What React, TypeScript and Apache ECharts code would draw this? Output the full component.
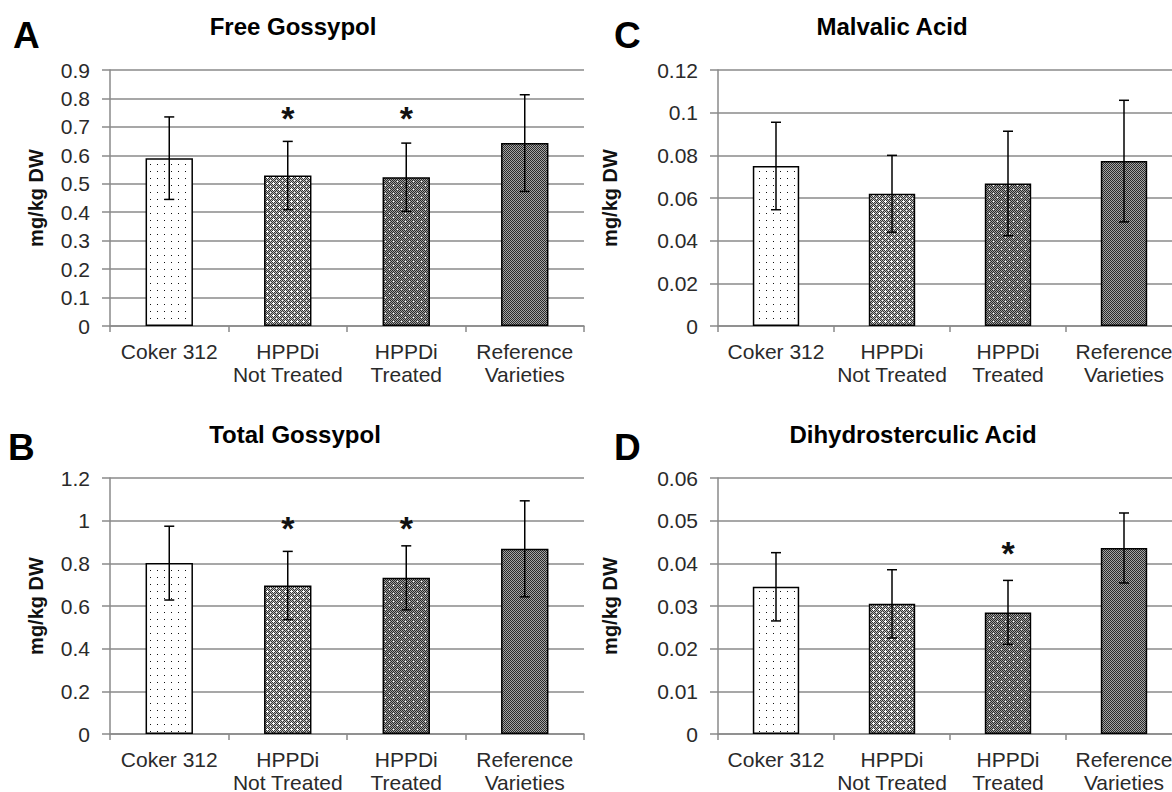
import { useEffect, useRef } from 'react';
import * as echarts from 'echarts';

const categories = ['Coker 312', 'HPPDi\nNot Treated', 'HPPDi\nTreated', 'Reference\nVarieties'];

const freeMean = [0.59, 0.529, 0.523, 0.643];
const freeErr = [0.145, 0.12, 0.12, 0.17];
const freeStar = [null, 0.73, 0.73, null];
const freeTicks = { max: 0.9, interval: 0.1 };

const totalMean = [0.801, 0.696, 0.732, 0.868];
const totalErr = [0.173, 0.16, 0.15, 0.225];
const totalStar = [null, 0.965, 0.965, null];
const totalTicks = { max: 1.2, interval: 0.2 };

const malvMean = [0.075, 0.062, 0.0668, 0.0773];
const malvErr = [0.0205, 0.018, 0.0245, 0.0285];
const malvStar = [null, null, null, null];
const malvTicks = { max: 0.12, interval: 0.02 };

const dhsMean = [0.0345, 0.0305, 0.0285, 0.0436];
const dhsErr = [0.008, 0.008, 0.0075, 0.0082];
const dhsStar = [null, null, 0.0425, null];
const dhsTicks = { max: 0.06, interval: 0.01 };

const FONT = "'Liberation Sans', Arial, sans-serif";

function makeTile(w: number, h: number, fn: (x: number, y: number) => string) {
  const c = document.createElement('canvas');
  c.width = w;
  c.height = h;
  const ctx = c.getContext('2d')!;
  for (let y = 0; y < h; y++) {
    for (let x = 0; x < w; x++) {
      ctx.fillStyle = fn(x, y);
      ctx.fillRect(x, y, 1, 1);
    }
  }
  return { image: c.toDataURL(), repeat: 'repeat', imageWidth: w, imageHeight: h };
}

export default function App() {
  const ref = useRef<HTMLDivElement>(null);
  useEffect(() => {
    if (!ref.current) return;
    const chart = echarts.init(ref.current, null, { renderer: 'svg' });

    const dots = makeTile(7, 7, (x, y) => (x === 3 && y === 3 ? '#111' : '#fff'));
    const weave = makeTile(6, 6, (x, y) => {
      const plus = (x === 3 && (y >= 2 && y <= 4)) || (y === 3 && x >= 2 && x <= 4);
      if (plus) return '#fff';
      if (x === 0 && y === 0) return '#fff';
      return (x + y) % 2 === 0 ? '#333' : '#b8b8b8';
    });
    const speck = makeTile(8, 8, (x, y) => {
      if ((x === 1 && y === 1) || (x === 5 && y === 5)) return '#fff';
      return (x + y) % 2 === 0 ? '#2a2a2a' : '#a0a0a0';
    });
    const fine = makeTile(2, 2, (x, y) => ((x + y) % 2 === 0 ? '#2a2a2a' : '#a4a4a4'));
    const patterns = [dots, weave, speck, fine];

    const panels = [
      { letter: 'A', title: 'Free Gossypol', mean: freeMean, err: freeErr, star: freeStar, ticks: freeTicks, left: 110, top: 70, width: 474, nameGap: 64, lx: 13, ly: 35, tx: 293, ty: 26 },
      { letter: 'C', title: 'Malvalic Acid', mean: malvMean, err: malvErr, star: malvStar, ticks: malvTicks, left: 718, top: 70, width: 464, nameGap: 98, lx: 614, ly: 35, tx: 892, ty: 26 },
      { letter: 'B', title: 'Total Gossypol', mean: totalMean, err: totalErr, star: totalStar, ticks: totalTicks, left: 110, top: 478, width: 474, nameGap: 64, lx: 8, ly: 447, tx: 295, ty: 434 },
      { letter: 'D', title: 'Dihydrosterculic Acid', mean: dhsMean, err: dhsErr, star: dhsStar, ticks: dhsTicks, left: 718, top: 478, width: 464, nameGap: 98, lx: 614, ly: 447, tx: 913, ty: 434 },
    ];

    const gridColor = '#8a8a8a';
    const grids: any[] = [];
    const xAxes: any[] = [];
    const yAxes: any[] = [];
    const series: any[] = [];
    const graphics: any[] = [];

    panels.forEach((p, k) => {
      grids.push({ left: p.left, top: p.top, width: p.width, height: 256, containLabel: false, outerBoundsMode: 'none' });
      xAxes.push({
        type: 'category',
        gridIndex: k,
        data: categories,
        axisLine: { lineStyle: { color: gridColor, width: 1.5 } },
        axisTick: { show: true, length: 6, lineStyle: { color: gridColor, width: 1.5 } },
        axisLabel: { color: '#2a2a2a', fontSize: 21, fontFamily: FONT, lineHeight: 23, margin: 14, interval: 0 },
      });
      yAxes.push({
        type: 'value',
        gridIndex: k,
        min: 0,
        max: p.ticks.max,
        interval: p.ticks.interval,
        name: 'mg/kg DW',
        nameLocation: 'middle',
        nameGap: p.nameGap,
        nameRotate: 90,
        nameTextStyle: { fontSize: 20, fontWeight: 'bold', fontFamily: FONT, color: '#111' },
        axisLine: { show: true, lineStyle: { color: gridColor, width: 1.5 } },
        axisTick: { show: true, length: 8, lineStyle: { color: gridColor, width: 1.5 } },
        splitLine: { show: true, lineStyle: { color: gridColor, width: 1.5 } },
        axisLabel: { color: '#2a2a2a', fontSize: 21, fontFamily: FONT, margin: 20 },
      });
      series.push({
        type: 'bar',
        xAxisIndex: k,
        yAxisIndex: k,
        barWidth: '40%',
        data: p.mean.map((v, i) => ({
          value: v,
          itemStyle: { color: patterns[i], borderColor: '#000', borderWidth: 1.5 },
        })),
        z: 2,
      });
      series.push({
        type: 'custom',
        xAxisIndex: k,
        yAxisIndex: k,
        z: 5,
        data: p.mean.map((v, i) => [i, v, p.err[i]]),
        renderItem: (params: any, api: any) => {
          const i = api.value(0);
          const m = api.value(1);
          const e = api.value(2);
          const top = api.coord([i, m + e]);
          const bot = api.coord([i, m - e]);
          const st = { stroke: '#000', lineWidth: 1.5 };
          return {
            type: 'group',
            children: [
              { type: 'line', shape: { x1: top[0], y1: top[1], x2: bot[0], y2: bot[1] }, style: st },
              { type: 'line', shape: { x1: top[0] - 5, y1: top[1], x2: top[0] + 5, y2: top[1] }, style: st },
              { type: 'line', shape: { x1: bot[0] - 5, y1: bot[1], x2: bot[0] + 5, y2: bot[1] }, style: st },
            ],
          };
        },
      });
      const starData = p.star.map((v, i) => (v == null ? null : [i, v])).filter((d) => d != null);
      if (starData.length) {
        series.push({
          type: 'custom',
          xAxisIndex: k,
          yAxisIndex: k,
          z: 6,
          data: starData,
          renderItem: (params: any, api: any) => {
            const pt = api.coord([api.value(0), api.value(1)]);
            return {
              type: 'text',
              x: pt[0],
              y: pt[1],
              style: { text: '*', fontSize: 34, fontWeight: 'bold', fontFamily: FONT, fill: '#111', align: 'center', verticalAlign: 'middle' },
            };
          },
        });
      }
      graphics.push({
        type: 'text',
        x: p.lx,
        y: p.ly,
        style: { text: p.letter, fontSize: 37, fontWeight: 'bold', fontFamily: FONT, fill: '#000', align: 'left', verticalAlign: 'middle' },
      });
      graphics.push({
        type: 'text',
        x: p.tx,
        y: p.ty,
        style: { text: p.title, fontSize: 24, fontWeight: 'bold', fontFamily: FONT, fill: '#000', align: 'center', verticalAlign: 'middle' },
      });
    });

    chart.setOption({
      animation: false,
      backgroundColor: '#fff',
      grid: grids,
      xAxis: xAxes,
      yAxis: yAxes,
      series,
      graphic: graphics,
    });
    return () => chart.dispose();
  }, []);

  return (
    <div style={{ position: 'fixed', left: 0, top: 0, width: 1172, height: 792, overflow: 'hidden', background: '#fff' }}>
      <div ref={ref} style={{ width: 1200, height: 792 }} />
    </div>
  );
}
